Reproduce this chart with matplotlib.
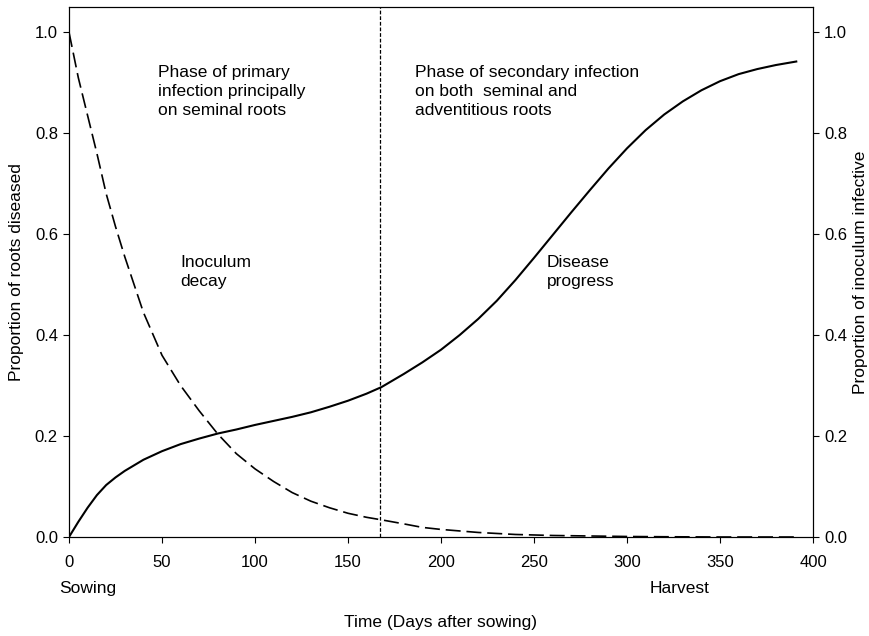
import numpy as np
import matplotlib
matplotlib.use("Agg")
import matplotlib.pyplot as plt

plt.rcParams['font.family'] = ['Liberation Sans', 'DejaVu Sans']

# Disease progress (proportion of roots diseased), days after sowing
days_disease = [0, 5, 10, 15, 20, 25, 30, 40, 50, 60, 70, 80, 90, 100, 110, 120,
                130, 140, 150, 160, 168, 180, 190, 200, 210, 220, 230, 240, 250,
                260, 270, 280, 290, 300, 310, 320, 330, 340, 350, 360, 370, 380, 391]
roots_diseased = [0.0, 0.03, 0.058, 0.083, 0.103, 0.118, 0.131, 0.153, 0.170, 0.184,
                  0.195, 0.205, 0.213, 0.222, 0.230, 0.238, 0.247, 0.258, 0.270, 0.284,
                  0.297, 0.323, 0.346, 0.371, 0.400, 0.432, 0.468, 0.509, 0.553, 0.598,
                  0.643, 0.687, 0.730, 0.770, 0.806, 0.837, 0.863, 0.885, 0.903, 0.917,
                  0.927, 0.935, 0.942]

# Inoculum decay (proportion of inoculum still infective)
days_inoculum = [0, 5, 10, 15, 20, 25, 30, 40, 50, 60, 70, 80, 90, 100, 110, 120,
                 130, 140, 150, 160, 168, 180, 190, 200, 220, 240, 260, 280, 300,
                 320, 350, 390]
inoculum_infective = [1.0, 0.91, 0.835, 0.76, 0.68, 0.615, 0.555, 0.445, 0.36, 0.30,
                      0.25, 0.204, 0.165, 0.135, 0.110, 0.088, 0.071, 0.058, 0.047,
                      0.039, 0.034, 0.026, 0.019, 0.015, 0.009, 0.005, 0.003, 0.002,
                      0.001, 0.0005, 0.0, 0.0]

phase_split = 167
x_ticks = [0, 50, 100, 150, 200, 250, 300, 350, 400]
y_ticks = [0.0, 0.2, 0.4, 0.6, 0.8, 1.0]

fig = plt.figure(figsize=(8.70, 6.36), dpi=100)
ax = fig.add_axes([69 / 870, 1 - 537 / 636, (813 - 69) / 870, (537 - 7) / 636])
ax2 = ax.twinx()

ax.plot(days_disease, roots_diseased, color='black', lw=1.5)
ax2.plot(days_inoculum, inoculum_infective, color='black', lw=1.2,
         linestyle=(0, (9, 3.5)))
ax.axvline(phase_split, color='black', lw=0.9, linestyle=(0, (3, 1.5)))

for a in (ax, ax2):
    a.set_xlim(0, 400)
    a.set_ylim(0, 1.05)
    a.set_yticks(y_ticks)
    a.set_yticklabels([f"{v:.1f}" for v in y_ticks])
    a.tick_params(direction='out', length=4, width=0.8, labelsize=12, pad=4)

ax.set_xticks(x_ticks)
ax.set_xticklabels([str(v) for v in x_ticks])
ax.tick_params(axis='x', pad=9)

ax.set_xlabel("Time (Days after sowing)", fontsize=12.5, labelpad=32)
ax.set_ylabel("Proportion of roots diseased", fontsize=12.5, labelpad=8)
ax2.set_ylabel("Proportion of inoculum infective", fontsize=12.5, labelpad=4)

# labels under the time axis
xform = ax.get_xaxis_transform()
ax.text(10, -0.098, "Sowing", transform=xform, ha='center', va='center', fontsize=12.5)
ax.text(328, -0.098, "Harvest", transform=xform, ha='center', va='center', fontsize=12.5)

# phase and curve annotations
ax.text(48, 0.935, "Phase of primary\ninfection principally\non seminal roots",
        ha='left', va='top', fontsize=12.5, linespacing=1.35)
ax.text(186, 0.935, "Phase of secondary infection\non both  seminal and\nadventitious roots",
        ha='left', va='top', fontsize=12.5, linespacing=1.35)
ax.text(60, 0.525, "Inoculum\ndecay", ha='left', va='center', fontsize=12.5, linespacing=1.35)
ax.text(257, 0.525, "Disease\nprogress", ha='left', va='center', fontsize=12.5, linespacing=1.35)

fig.savefig("out.png", dpi=100)
